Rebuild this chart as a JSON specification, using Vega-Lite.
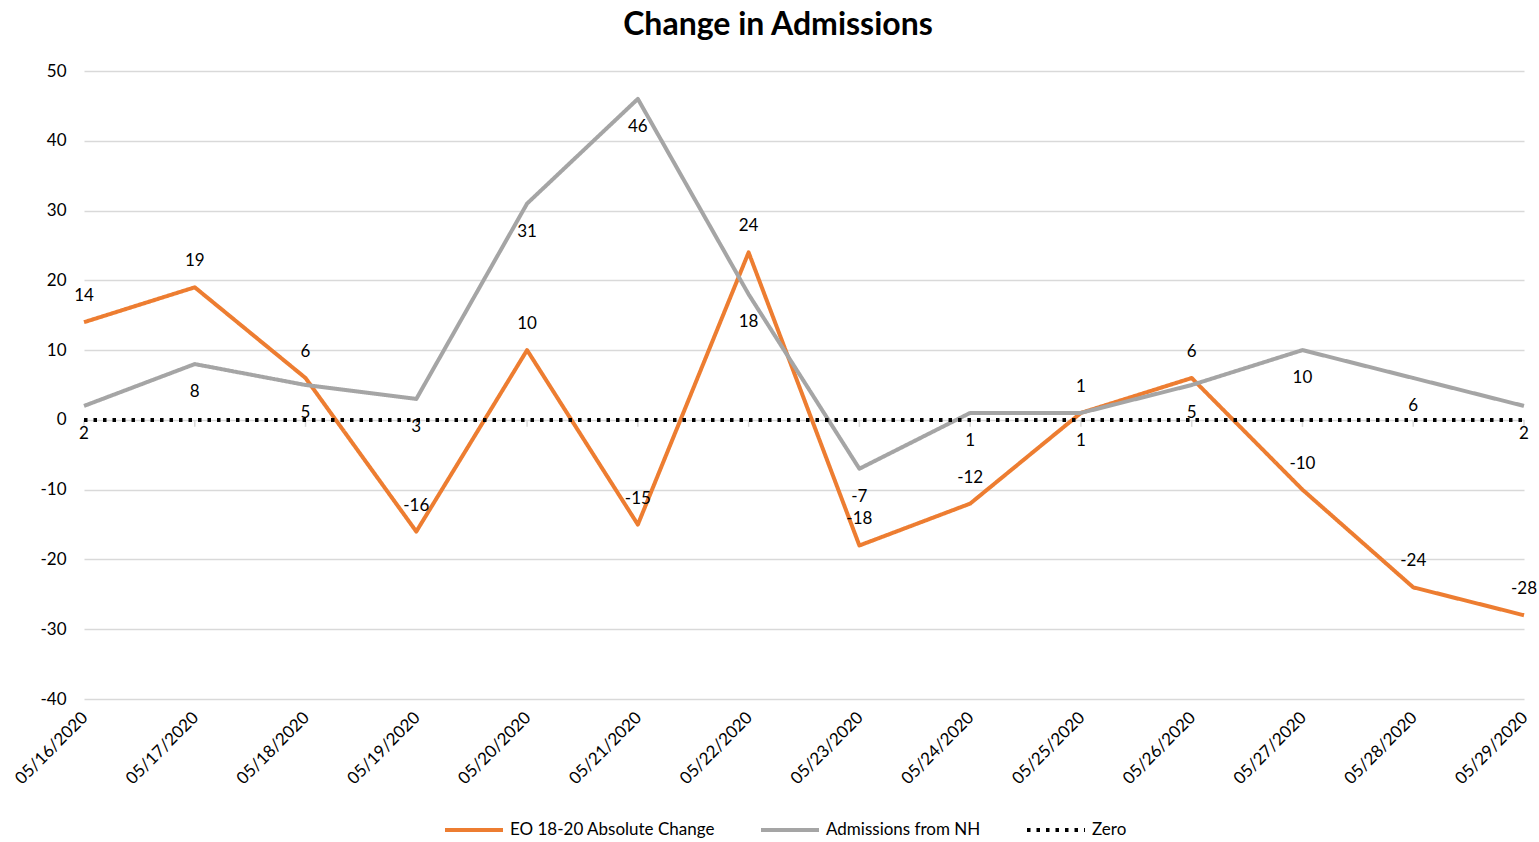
{
  "$schema": "https://vega.github.io/schema/vega-lite/v6.json",
  "width": 1440,
  "height": 628,
  "autosize": {"type": "none"},
  "padding": {"left": 84, "top": 71, "right": 15, "bottom": 143},
  "background": "white",
  "title": {
    "text": "Change in Admissions",
    "font": "Lato",
    "fontSize": 32,
    "fontWeight": "bold",
    "color": "#000000",
    "anchor": "middle",
    "frame": "group",
    "dx": -26,
    "offset": 20
  },
  "config": {
    "view": {"stroke": null},
    "font": "Lato"
  },
  "data": {
    "values": [
      {"date": "05/16/2020", "series": "EO 18-20 Absolute Change", "value": 14},
      {"date": "05/17/2020", "series": "EO 18-20 Absolute Change", "value": 19},
      {"date": "05/18/2020", "series": "EO 18-20 Absolute Change", "value": 6},
      {"date": "05/19/2020", "series": "EO 18-20 Absolute Change", "value": -16},
      {"date": "05/20/2020", "series": "EO 18-20 Absolute Change", "value": 10},
      {"date": "05/21/2020", "series": "EO 18-20 Absolute Change", "value": -15},
      {"date": "05/22/2020", "series": "EO 18-20 Absolute Change", "value": 24},
      {"date": "05/23/2020", "series": "EO 18-20 Absolute Change", "value": -18},
      {"date": "05/24/2020", "series": "EO 18-20 Absolute Change", "value": -12},
      {"date": "05/25/2020", "series": "EO 18-20 Absolute Change", "value": 1},
      {"date": "05/26/2020", "series": "EO 18-20 Absolute Change", "value": 6},
      {"date": "05/27/2020", "series": "EO 18-20 Absolute Change", "value": -10},
      {"date": "05/28/2020", "series": "EO 18-20 Absolute Change", "value": -24},
      {"date": "05/29/2020", "series": "EO 18-20 Absolute Change", "value": -28},
      {"date": "05/16/2020", "series": "Admissions from NH", "value": 2},
      {"date": "05/17/2020", "series": "Admissions from NH", "value": 8},
      {"date": "05/18/2020", "series": "Admissions from NH", "value": 5},
      {"date": "05/19/2020", "series": "Admissions from NH", "value": 3},
      {"date": "05/20/2020", "series": "Admissions from NH", "value": 31},
      {"date": "05/21/2020", "series": "Admissions from NH", "value": 46},
      {"date": "05/22/2020", "series": "Admissions from NH", "value": 18},
      {"date": "05/23/2020", "series": "Admissions from NH", "value": -7},
      {"date": "05/24/2020", "series": "Admissions from NH", "value": 1},
      {"date": "05/25/2020", "series": "Admissions from NH", "value": 1},
      {"date": "05/26/2020", "series": "Admissions from NH", "value": 5},
      {"date": "05/27/2020", "series": "Admissions from NH", "value": 10},
      {"date": "05/28/2020", "series": "Admissions from NH", "value": 6},
      {"date": "05/29/2020", "series": "Admissions from NH", "value": 2},
      {"date": "05/16/2020", "series": "Zero", "value": 0},
      {"date": "05/17/2020", "series": "Zero", "value": 0},
      {"date": "05/18/2020", "series": "Zero", "value": 0},
      {"date": "05/19/2020", "series": "Zero", "value": 0},
      {"date": "05/20/2020", "series": "Zero", "value": 0},
      {"date": "05/21/2020", "series": "Zero", "value": 0},
      {"date": "05/22/2020", "series": "Zero", "value": 0},
      {"date": "05/23/2020", "series": "Zero", "value": 0},
      {"date": "05/24/2020", "series": "Zero", "value": 0},
      {"date": "05/25/2020", "series": "Zero", "value": 0},
      {"date": "05/26/2020", "series": "Zero", "value": 0},
      {"date": "05/27/2020", "series": "Zero", "value": 0},
      {"date": "05/28/2020", "series": "Zero", "value": 0},
      {"date": "05/29/2020", "series": "Zero", "value": 0}
    ]
  },
  "encoding": {
    "x": {
      "field": "date",
      "type": "ordinal",
      "scale": {"type": "point", "padding": 0},
      "axis": {
        "title": null,
        "labelAngle": -45,
        "labelFontSize": 17,
        "labelColor": "#000000",
        "labelPadding": 10,
        "labelOffset": -5,
        "domain": false,
        "ticks": false,
        "grid": false
      }
    },
    "y": {
      "field": "value",
      "type": "quantitative",
      "scale": {"domain": [-40, 50], "nice": false, "zero": false},
      "axis": {
        "title": null,
        "values": [-40, -30, -20, -10, 0, 10, 20, 30, 40, 50],
        "labelExpr": "'' + datum.value",
        "labelFontSize": 17,
        "labelColor": "#000000",
        "labelPadding": 18,
        "domain": false,
        "ticks": false,
        "grid": true,
        "gridColor": "#d9d9d9",
        "gridWidth": 1.5
      }
    }
  },
  "layer": [
    {
      "transform": [{"filter": "datum.series === 'Zero'"}],
      "mark": {"type": "rule", "color": "#d9d9d9", "strokeWidth": 1.5},
      "encoding": {
        "y": {"datum": 0},
        "y2": {"datum": -1}
      }
    },
    {
      "mark": {"type": "line", "strokeWidth": 4, "strokeJoin": "round"},
      "encoding": {
        "detail": {"field": "series"},
        "color": {
          "field": "series",
          "type": "nominal",
          "scale": {
            "domain": ["EO 18-20 Absolute Change", "Admissions from NH", "Zero"],
            "range": ["#ED7D31", "#A5A5A5", "#000000"]
          },
          "legend": {
            "title": null,
            "orient": "none",
            "direction": "horizontal",
            "legendX": 359,
            "legendY": 728,
            "symbolType": "stroke",
            "symbolSize": 3364,
            "symbolStrokeWidth": 4,
            "labelFontSize": 17,
            "labelColor": "#000000",
            "labelOffset": 5,
            "columnPadding": 38,
            "labelLimit": 400
          }
        },
        "strokeDash": {
          "field": "series",
          "type": "nominal",
          "scale": {
            "domain": ["EO 18-20 Absolute Change", "Admissions from NH", "Zero"],
            "range": [[1, 0], [1, 0], [3.5, 6]]
          },
          "legend": null
        }
      }
    },
    {
      "transform": [{"filter": "datum.series === 'EO 18-20 Absolute Change'"}],
      "mark": {"type": "text", "dy": -26, "fontSize": 17, "color": "#000000"},
      "encoding": {"text": {"field": "value", "type": "nominal"}}
    },
    {
      "transform": [{"filter": "datum.series === 'Admissions from NH'"}],
      "mark": {"type": "text", "dy": 28, "fontSize": 17, "color": "#000000"},
      "encoding": {"text": {"field": "value", "type": "nominal"}}
    }
  ]
}
